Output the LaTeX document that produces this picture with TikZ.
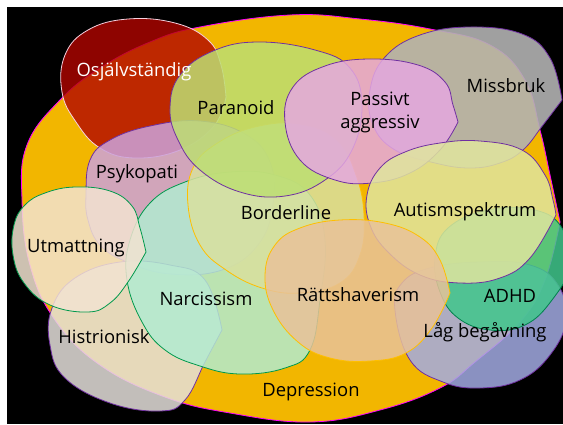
\documentclass[tikz,border=0pt]{standalone}
\usepackage{fontspec}
\setmainfont{Open Sans}

\begin{document}
\begin{tikzpicture}[x=1pt,y=-1pt,blob/.style={line width=0.8pt,fill opacity=0.85},lbl/.style={font=\fontsize{18.4}{23}\selectfont,text=black,align=center}]
\useasboundingbox (0,0) rectangle (563,424);
\fill[white] (0,0) rectangle (563,424);
\fill[black] (7,7) rectangle (563,424);
\begin{scope}
\clip (7,7) rectangle (563,424);
% Depression
\filldraw[line width=0.8pt,draw={rgb,1:red,1;green,0;blue,1},fill={rgb,1:red,0.949;green,0.714;blue,0}] plot[smooth,tension=0.7] coordinates {(560,222) (545,280) (520,322) (475,362) (440,388) (380,410) (310,422) (230,413) (165,397) (100,365) (55,320) (30,265) (22,200) (27,145) (60,100) (100,68) (150,42) (200,27) (290,15) (360,19) (430,29) (490,45) (525,80) (540,130) (550,175) (560,222)} -- cycle;
% Osjalvstandig
\filldraw[blob,fill opacity=0.8,draw={rgb,1:red,0.96;green,0.82;blue,0.88},fill={rgb,1:red,0.70;green,0.02;blue,0}] plot[smooth,tension=0.7] coordinates {(226,97) (214,126) (180,150) (135,158) (100,148) (76,122) (62,92) (65,55) (88,30) (128,19) (175,23) (208,40) (221,65) (226,97)} -- cycle;
\filldraw[blob,draw={rgb,1:red,0.44;green,0.19;blue,0.63},fill={rgb,1:red,0.80;green,0.64;blue,0.86}] plot[smooth cycle,tension=0.7] coordinates {(86,195) (90,160) (110,140) (150,126) (200,121) (245,134) (270,162) (273,205) (258,245) (222,270) (170,274) (127,262) (100,245) (88,220)};
\filldraw[blob,draw={rgb,1:red,0.44;green,0.19;blue,0.63},fill={rgb,1:red,0.90;green,0.88;blue,0.86}] plot[smooth,tension=0.7] coordinates {(222,330) (205,362) (185,400) (160,411) (110,403) (65,378) (50,345) (52,308) (75,278) (120,262) (170,265) (205,280) (222,330)} -- cycle;
\filldraw[blob,draw={rgb,1:red,0;green,0.6;blue,0.3},fill={rgb,1:red,0.70;green,0.92;blue,0.82}] plot[smooth cycle,tension=0.7] coordinates {(127,280) (130,240) (150,203) (185,182) (230,172) (275,175) (310,195) (325,240) (320,300) (310,350) (285,368) (240,374) (200,366) (165,350) (142,322)};
\filldraw[blob,draw={rgb,1:red,1;green,0.75;blue,0},fill={rgb,1:red,0.85;green,0.88;blue,0.62}] plot[smooth cycle,tension=0.7] coordinates {(188,205) (193,168) (216,144) (255,127) (300,124) (337,140) (356,175) (364,215) (360,255) (340,283) (300,293) (262,288) (226,270) (200,245)};
\filldraw[blob,draw={rgb,1:red,0.44;green,0.19;blue,0.63},fill={rgb,1:red,0.74;green,0.87;blue,0.45}] plot[smooth cycle,tension=0.7] coordinates {(170,108) (180,75) (213,51) (258,42) (315,50) (350,68) (362,105) (352,150) (325,180) (285,196) (240,192) (200,170) (178,140)};
\filldraw[blob,fill opacity=0.9,draw={rgb,1:red,0.44;green,0.19;blue,0.63},fill={rgb,1:red,0.70;green,0.70;blue,0.70}] plot[smooth,tension=0.7] coordinates {(562,100) (543,125) (523,150) (500,163) (470,168) (435,163) (395,150) (373,125) (370,90) (385,57) (420,35) (470,27) (522,34) (550,58) (562,100)} -- cycle;
\filldraw[blob,draw={rgb,1:red,0.44;green,0.19;blue,0.63},fill={rgb,1:red,0.90;green,0.66;blue,0.88}] plot[smooth,tension=0.7] coordinates {(458,122) (440,150) (410,173) (372,183) (335,180) (300,160) (285,122) (293,87) (325,66) (370,59) (418,65) (445,82) (453,105) (458,122)} -- cycle;
\filldraw[blob,draw={rgb,1:red,0.44;green,0.19;blue,0.63},fill={rgb,1:red,0.64;green,0.67;blue,0.89}] plot[smooth cycle,tension=0.7] coordinates {(395,310) (402,283) (430,268) (480,262) (530,265) (558,285) (566,320) (550,355) (520,380) (480,388) (443,382) (410,360)};
\filldraw[blob,draw={rgb,1:red,0;green,0.5;blue,0.3},fill={rgb,1:red,0.25;green,0.78;blue,0.55}] plot[smooth cycle,tension=0.7] coordinates {(435,258) (448,228) (488,210) (535,210) (562,228) (570,265) (552,300) (525,325) (490,330) (458,318) (440,292)};
\filldraw[blob,draw={rgb,1:red,0.44;green,0.19;blue,0.63},fill={rgb,1:red,0.88;green,0.90;blue,0.62}] plot[smooth,tension=0.7] coordinates {(556,215) (530,258) (500,278) (460,283) (420,275) (388,252) (370,225) (367,195) (380,168) (405,152) (440,143) (480,141) (522,150) (545,175) (553,200) (556,215)} -- cycle;
\filldraw[blob,draw={rgb,1:red,1;green,0.75;blue,0},fill={rgb,1:red,0.91;green,0.76;blue,0.60}] plot[smooth,tension=0.7] coordinates {(450,293) (432,328) (406,353) (370,361) (330,358) (298,342) (273,310) (265,275) (275,245) (300,228) (340,220) (385,223) (420,237) (440,260) (450,293)} -- cycle;
\filldraw[blob,draw={rgb,1:red,0;green,0.6;blue,0.3},fill={rgb,1:red,0.95;green,0.89;blue,0.82}] plot[smooth,tension=0.7] coordinates {(146,252) (128,282) (110,303) (88,312) (50,305) (24,283) (13,255) (14,225) (25,205) (45,193) (75,187) (110,191) (132,206) (140,228) (146,252)} -- cycle;
\end{scope}
% labels
\node[lbl,text=white] (osj) at (134,72) {Osjälvständig};
\node[lbl] (par) at (236,108) {Paranoid};
\node[lbl] (pas) at (380,112) {Passivt\\aggressiv};
\node[lbl] (mis) at (506,86) {Missbruk};
\node[lbl] (psy) at (137,174) {Psykopati};
\node[lbl] (bor) at (286,213) {Borderline};
\node[lbl] (aut) at (465,212) {Autismspektrum};
\node[lbl] (utm) at (76,248) {Utmattning};
\node[lbl] (nar) at (206,299) {Narcissism};
\node[lbl] (his) at (104,337) {Histrionisk};
\node[lbl] (rat) at (358,295) {Rättshaverism};
\node[lbl] (adh) at (510,296) {ADHD};
\node[lbl] (lag) at (485,332) {Låg begåvning};
\node[lbl] (dep) at (311,392) {Depression};
\end{tikzpicture}
\end{document}
